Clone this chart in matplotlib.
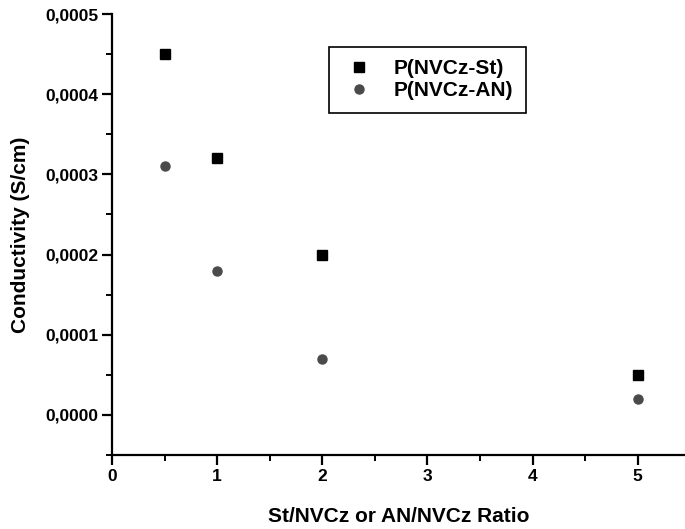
import numpy as np
import matplotlib.pyplot as plt
from matplotlib.ticker import MultipleLocator, FuncFormatter

plt.rcParams['font.family'] = ['Liberation Sans', 'DejaVu Sans']

# data
ratio = [0.5, 1, 2, 5]
cond_st = [0.00045, 0.00032, 0.00020, 0.00005]
cond_an = [0.00031, 0.00018, 0.00007, 0.00002]

fig = plt.figure(figsize=(6.85, 5.29), dpi=100)
ax = fig.add_axes([0.1635, 0.140, 0.8365, 0.8335])

ax.plot(ratio, cond_st, ls='none', marker='s', ms=7.5, color='black',
        label='P(NVCz-St)')
ax.plot(ratio, cond_an, ls='none', marker='o', ms=6.5, color='#4a4a4a',
        label='P(NVCz-AN)')

ax.set_xlim(0, 5.45)
ax.set_ylim(-0.00005, 0.0005)

ax.xaxis.set_major_locator(MultipleLocator(1))
ax.xaxis.set_minor_locator(MultipleLocator(0.5))
ax.yaxis.set_major_locator(MultipleLocator(0.0001))
ax.yaxis.set_minor_locator(MultipleLocator(0.00005))
ax.yaxis.set_major_formatter(FuncFormatter(lambda v, p: ('%.4f' % v).replace('.', ',')))

for s in ['top', 'right']:
    ax.spines[s].set_visible(False)
for s in ['left', 'bottom']:
    ax.spines[s].set_linewidth(1.6)

ax.tick_params(which='major', direction='out', length=7, width=1.6, labelsize=12.5, pad=3)
ax.tick_params(which='minor', direction='out', length=4, width=1.4)
for lab in ax.get_xticklabels() + ax.get_yticklabels():
    lab.set_fontweight('bold')

ax.set_xlabel('St/NVCz or AN/NVCz Ratio', fontsize=15, fontweight='bold', labelpad=17)
ax.set_ylabel('Conductivity (S/cm)', fontsize=15, fontweight='bold')
ax.yaxis.set_label_coords(-0.143, 0.5)

leg = ax.legend(loc='upper left', bbox_to_anchor=(329 / 685, 1 - 47 / 529),
                bbox_transform=fig.transFigure, borderaxespad=0, fancybox=False,
                edgecolor='black', framealpha=1, prop={'size': 15, 'weight': 'bold'},
                handletextpad=0.8, borderpad=0.6, labelspacing=0.12, handlelength=1.7)
leg.get_frame().set_linewidth(1.2)

fig.savefig('out.png', dpi=100)
